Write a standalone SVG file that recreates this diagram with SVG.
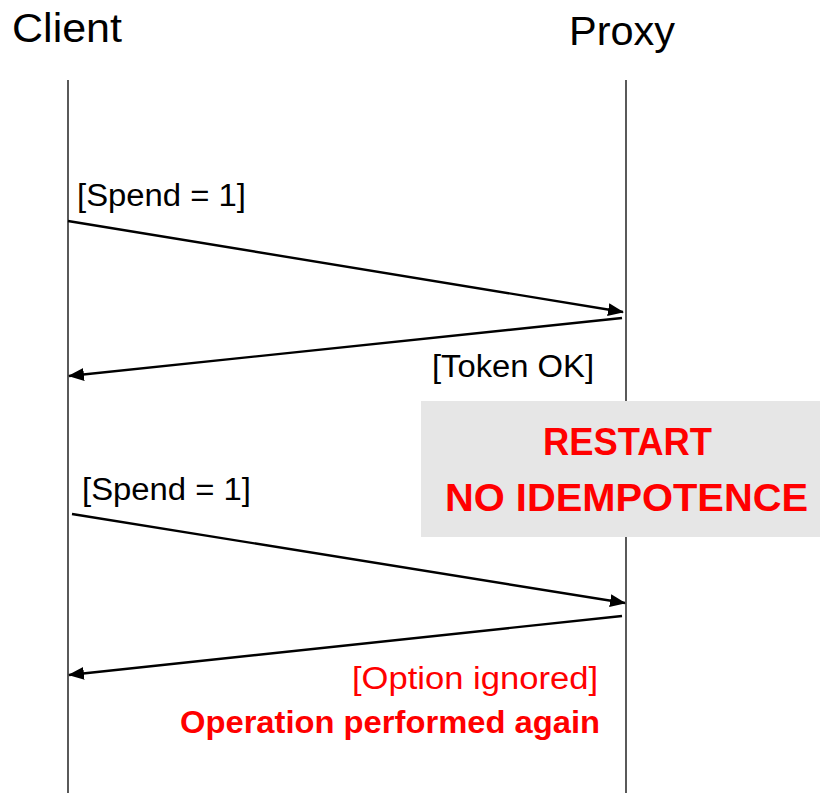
<svg xmlns="http://www.w3.org/2000/svg" width="820" height="793" viewBox="0 0 820 793">
<style>
.t{font-family:"Liberation Sans",Arial,sans-serif;fill:#000}
.r{fill:#ff0000}
.b{font-weight:bold}
.life{stroke:#000;stroke-width:1.3;fill:none}
.msg{stroke:#000;stroke-width:2.4;fill:none;marker-end:url(#ah)}
</style>
<defs>
<marker id="ah" viewBox="0 0 16 13" refX="15" refY="6.5" markerWidth="16" markerHeight="13" markerUnits="userSpaceOnUse" orient="auto">
<path d="M0,0 L16,6.5 L0,13 z" fill="#000"/>
</marker>
</defs>
<rect width="820" height="793" fill="#fff"/>
<g id="client">
<line class="life" x1="68" y1="80" x2="68" y2="793"/>
<text class="t" x="12" y="42" font-size="40" textLength="110" lengthAdjust="spacingAndGlyphs">Client</text>
</g>
<g id="proxy">
<line class="life" x1="626" y1="80" x2="626" y2="793"/>
<text class="t" x="569" y="45" font-size="40" textLength="106" lengthAdjust="spacingAndGlyphs">Proxy</text>
</g>
<g id="restart">
<rect x="421" y="401" width="399" height="136" fill="#e6e6e6"/>
<text class="t r b" x="543" y="455" font-size="38" textLength="169" lengthAdjust="spacingAndGlyphs">RESTART</text>
<text class="t r b" x="445" y="511" font-size="38" textLength="363" lengthAdjust="spacingAndGlyphs">NO IDEMPOTENCE</text>
</g>
<g id="connectors">
<line class="msg" x1="68" y1="221" x2="623" y2="312"/>
<line class="msg" x1="622" y1="318" x2="69" y2="376"/>
<line class="msg" x1="72" y1="514" x2="625" y2="603"/>
<line class="msg" x1="622" y1="616" x2="69" y2="675"/>
</g>
<g id="labels">
<text class="t" x="77" y="206" font-size="31" textLength="169" lengthAdjust="spacingAndGlyphs">[Spend = 1]</text>
<text class="t" x="432" y="377" font-size="31" textLength="162" lengthAdjust="spacingAndGlyphs">[Token OK]</text>
<text class="t" x="82" y="500" font-size="31" textLength="169" lengthAdjust="spacingAndGlyphs">[Spend = 1]</text>
<text class="t r" x="352" y="689" font-size="31" textLength="246" lengthAdjust="spacingAndGlyphs">[Option ignored]</text>
<text class="t r b" x="180" y="733" font-size="31" textLength="420" lengthAdjust="spacingAndGlyphs">Operation performed again</text>
</g>
</svg>
